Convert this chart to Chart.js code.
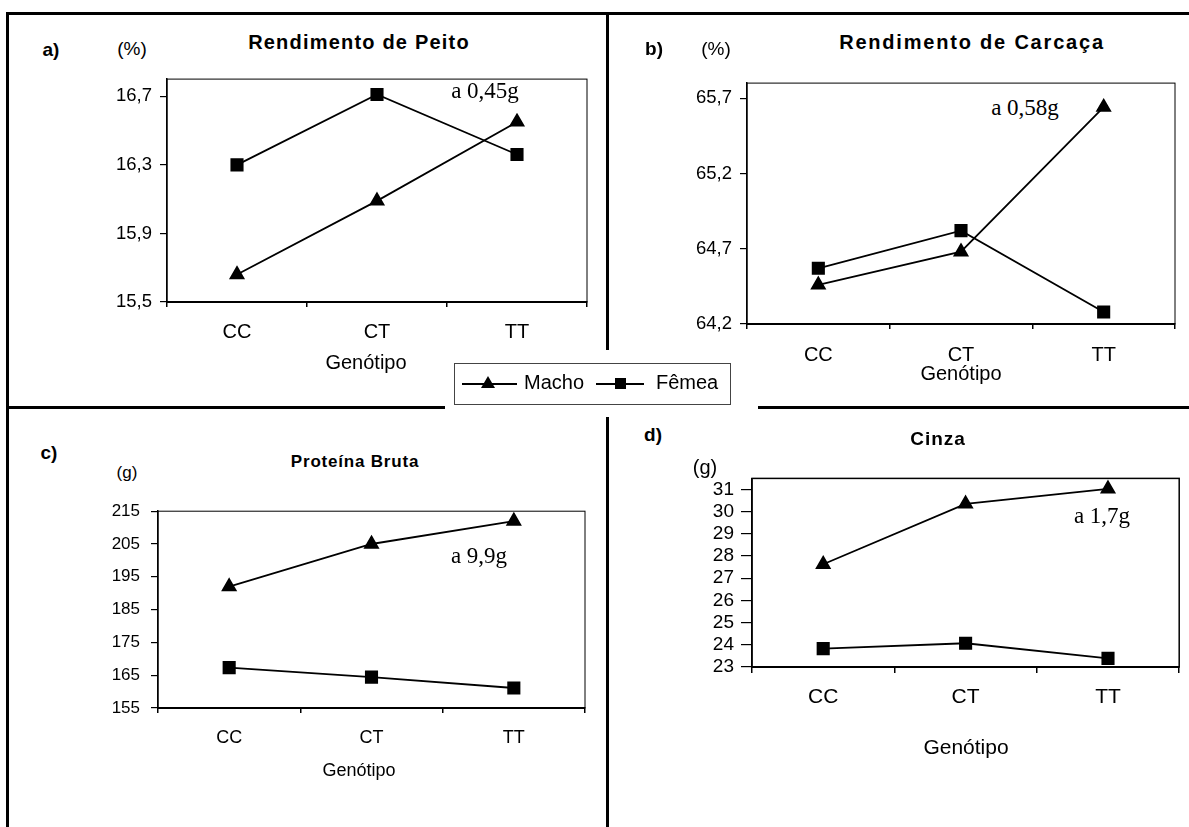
<!DOCTYPE html>
<html lang="pt">
<head>
<meta charset="utf-8">
<script src="https://cdn.jsdelivr.net/npm/chart.js@4.4.1/dist/chart.umd.min.js"></script>
<style>
  body { margin: 0; background: #fff; }
  #pagina { position: relative; width: 1189px; height: 827px; overflow: hidden;
            font-family: "Liberation Sans", Arial, sans-serif; color: #000; }
  .quadro { position: absolute; }
  .linha { position: absolute; background: #000; }
  .txt { position: absolute; transform: translate(-50%, -50%); white-space: nowrap; line-height: 1; }
  .neg { font-weight: bold; }
  .anot { position: absolute; transform: translate(-50%, -50%); white-space: nowrap; line-height: 1;
          font-family: "Liberation Serif", "Times New Roman", serif; font-size: 23px; }
  .branco { position: absolute; background: #fff; }
  #legenda { position: absolute; left: 454px; top: 363px; width: 277px; height: 42px;
             border: 1px solid #444; box-sizing: border-box; background: #fff; }
  #legenda div { position: absolute; }
</style>
</head>
<body>
<div id="pagina">
  <canvas id="graficoPeito" class="quadro" width="540" height="320" style="left:60px;top:60px"></canvas>
  <canvas id="graficoCarcaca" class="quadro" width="549" height="326" style="left:640px;top:64px"></canvas>
  <canvas id="graficoProteina" class="quadro" width="550" height="310" style="left:50px;top:490px"></canvas>
  <canvas id="graficoCinza" class="quadro" width="549" height="320" style="left:640px;top:460px"></canvas>

  <!-- moldura da figura -->
  <div class="linha" style="left:6px;top:12px;width:1183px;height:3px"></div>
  <div class="linha" style="left:6px;top:12px;width:3px;height:815px"></div>
  <div class="linha" style="left:606px;top:12px;width:3px;height:338px"></div>
  <div class="linha" style="left:606px;top:417px;width:3px;height:410px"></div>
  <div class="linha" style="left:6px;top:406px;width:439px;height:3px"></div>
  <div class="linha" style="left:758px;top:406px;width:431px;height:3px"></div>

  <!-- a) -->
  <div class="txt neg" style="left:51px;top:49px;font-size:19px">a)</div>
  <div class="txt" style="left:132px;top:48px;font-size:19px">(%)</div>
  <div class="txt neg" style="left:359px;top:42px;font-size:20px;letter-spacing:1.2px">Rendimento de Peito</div>
  <div class="txt" style="left:366px;top:362px;font-size:20px">Genótipo</div>
  <div class="branco" style="left:430px;top:68px;width:144px;height:8px"></div>
  <div class="anot" style="left:485px;top:90px">a 0,45g</div>

  <!-- b) -->
  <div class="txt neg" style="left:654px;top:48px;font-size:19px">b)</div>
  <div class="txt" style="left:716px;top:48px;font-size:19px">(%)</div>
  <div class="txt neg" style="left:972px;top:42px;font-size:20px;letter-spacing:1.8px">Rendimento de Carcaça</div>
  <div class="txt" style="left:961px;top:373px;font-size:20px">Genótipo</div>
  <div class="branco" style="left:985px;top:92px;width:98px;height:35px"></div>
  <div class="anot" style="left:1025px;top:107px">a 0,58g</div>

  <!-- c) -->
  <div class="txt neg" style="left:49px;top:452px;font-size:19px">c)</div>
  <div class="txt" style="left:127px;top:472px;font-size:17px">(g)</div>
  <div class="txt neg" style="left:355px;top:461px;font-size:17px;letter-spacing:0.8px">Proteína Bruta</div>
  <div class="txt" style="left:359px;top:770px;font-size:18px">Genótipo</div>
  <div class="anot" style="left:479px;top:555px">a 9,9g</div>

  <!-- d) -->
  <div class="txt neg" style="left:653px;top:434px;font-size:19px">d)</div>
  <div class="txt neg" style="left:938px;top:438px;font-size:19px;letter-spacing:1px">Cinza</div>
  <div class="txt" style="left:705px;top:467px;font-size:20px">(g)</div>
  <div class="txt" style="left:966px;top:746px;font-size:21px">Genótipo</div>
  <div class="anot" style="left:1102px;top:515px">a 1,7g</div>

  <!-- legenda comum -->
  <div id="legenda">
    <div style="left:7px;top:19px;width:55px;height:2px;background:#000"></div>
    <div style="left:26px;top:12px;width:0;height:0;border-left:7px solid transparent;border-right:7px solid transparent;border-bottom:12px solid #000"></div>
    <div style="left:69px;top:8px;font-size:20px;line-height:20px">Macho</div>
    <div style="left:141px;top:19px;width:48px;height:2px;background:#000"></div>
    <div style="left:160px;top:14px;width:11px;height:11px;background:#000"></div>
    <div style="left:201px;top:8px;font-size:20px;line-height:20px">Fêmea</div>
  </div>
</div>

<script>
const genotipos = ['CC', 'CT', 'TT'];

const peitoMacho = [15.66, 16.09, 16.55];
const peitoFemea = [16.30, 16.71, 16.36];
const peitoMarcas = [15.5, 15.9, 16.3, 16.7];

const carcacaMacho = [64.46, 64.68, 65.64];
const carcacaFemea = [64.57, 64.82, 64.28];
const carcacaMarcas = [64.2, 64.7, 65.2, 65.7];

const proteinaMacho = [192, 205, 212];
const proteinaFemea = [167.3, 164.4, 161.1];
const proteinaMarcas = [155, 165, 175, 185, 195, 205, 215];

const cinzaMacho = [27.63, 30.35, 31.03];
const cinzaFemea = [23.83, 24.07, 23.39];
const cinzaMarcas = [23, 24, 25, 26, 27, 28, 29, 30, 31];

Chart.defaults.font.family = '"Liberation Sans", Arial, sans-serif';
Chart.defaults.color = '#000';

// contorno fino da area do grafico (Excel desenha a caixa toda)
const molduraPlot = {
  id: 'molduraPlot',
  beforeDatasetsDraw(chart) {
    const a = chart.chartArea;
    const ctx = chart.ctx;
    ctx.save();
    ctx.strokeStyle = '#000';
    ctx.lineWidth = chart.options.plugins.molduraPlot.largura;
    ctx.strokeRect(a.left, a.top, a.right - a.left, a.bottom - a.top);
    ctx.restore();
  }
};

function virgula(casas) {
  return function(v) { return v.toFixed(casas).replace('.', ','); };
}

function criarGrafico(id, o) {
  const ctx = document.getElementById(id).getContext('2d');
  return new Chart(ctx, {
    type: 'line',
    data: {
      labels: genotipos,
      datasets: [{
        label: 'Macho',
        data: o.macho,
        borderColor: '#000',
        backgroundColor: '#000',
        borderWidth: 1.8,
        pointStyle: 'triangle',
        pointRadius: 7.5,
        tension: 0
      }, {
        label: 'Fêmea',
        data: o.femea,
        borderColor: '#000',
        backgroundColor: '#000',
        borderWidth: 1.8,
        pointStyle: 'rect',
        pointRadius: 8,
        tension: 0
      }]
    },
    options: {
      responsive: false,
      animation: false,
      layout: { padding: { top: o.topo, right: o.direita, left: 0, bottom: 0 } },
      plugins: {
        legend: { display: false },
        tooltip: { enabled: false },
        molduraPlot: { largura: o.moldura }
      },
      scales: {
        x: {
          offset: true,
          grid: { offset: true, drawOnChartArea: false, tickLength: o.tickX, color: '#000', lineWidth: 1.5 },
          border: { color: '#000', width: 2 },
          ticks: { color: '#000', padding: o.padX, font: { size: o.fonteX }, maxRotation: 0, autoSkip: false },
          afterFit: function(s) { s.height = o.alturaX; }
        },
        y: {
          min: o.min,
          max: o.max,
          grid: { drawOnChartArea: false, tickLength: o.tickY, color: '#000', lineWidth: 1.2 },
          border: { color: '#000', width: 1.5 },
          ticks: { color: '#000', padding: o.padY, font: { size: o.fonteY }, autoSkip: false, callback: o.formato },
          afterBuildTicks: function(s) { s.ticks = o.marcas.map(v => ({ value: v })); },
          afterFit: function(s) { s.width = o.larguraY; }
        }
      }
    },
    plugins: [molduraPlot]
  });
}

criarGrafico('graficoPeito', {
  macho: peitoMacho, femea: peitoFemea, marcas: peitoMarcas, min: 15.5, max: 16.8,
  formato: virgula(1), larguraY: 107, topo: 12, direita: 13, alturaX: 78,
  tickY: 7, padY: 8, fonteY: 18.5, tickX: 5, padX: 13, fonteX: 20, moldura: 1
});

criarGrafico('graficoCarcaca', {
  macho: carcacaMacho, femea: carcacaFemea, marcas: carcacaMarcas, min: 64.2, max: 65.8,
  formato: virgula(1), larguraY: 107, topo: 12, direita: 14, alturaX: 66,
  tickY: 7, padY: 8, fonteY: 18.5, tickX: 5, padX: 14, fonteX: 20, moldura: 1
});

criarGrafico('graficoProteina', {
  macho: proteinaMacho, femea: proteinaFemea, marcas: proteinaMarcas, min: 155, max: 215,
  formato: virgula(0), larguraY: 108, topo: 13, direita: 15, alturaX: 92,
  tickY: 7, padY: 11, fonteY: 17, tickX: 5, padX: 14, fonteX: 18, moldura: 1
});

criarGrafico('graficoCinza', {
  macho: cinzaMacho, femea: cinzaFemea, marcas: cinzaMarcas, min: 23, max: 31.5,
  formato: virgula(0), larguraY: 112, topo: 12, direita: 1, alturaX: 113,
  tickY: 11, padY: 7, fonteY: 19, tickX: 6, padX: 12, fonteX: 21, moldura: 1.5
});
</script>
</body>
</html>
